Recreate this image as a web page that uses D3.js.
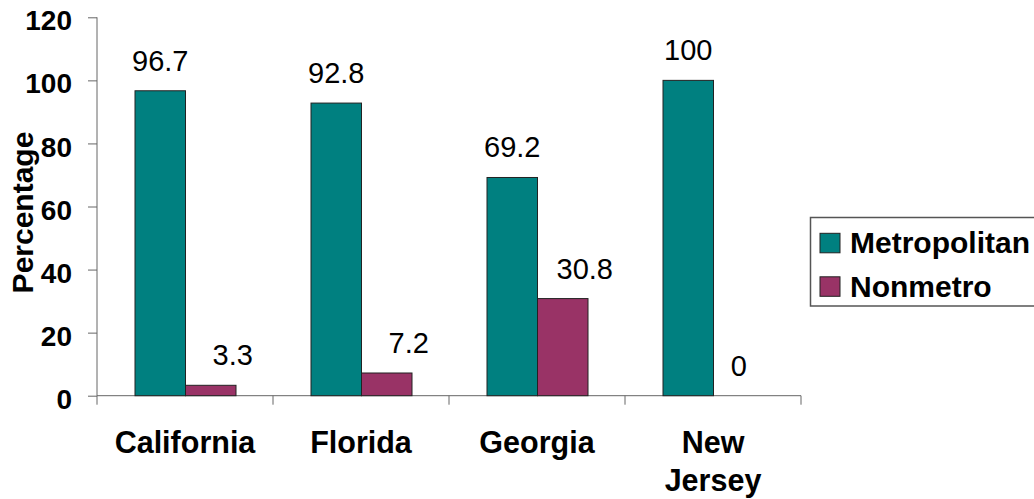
<!DOCTYPE html>
<meta charset="utf-8">
<style>
body { margin: 0; background: #fff; }
svg { display: block; font-family: Arial, "Liberation Sans", sans-serif; }
</style>
<svg id="chart" width="1034" height="499"></svg>
<script src="https://d3js.org/d3.v7.min.js"></script>
<script>

var states = ["California", "Florida", "Georgia", "New Jersey"];
var seriesNames = ["Metropolitan", "Nonmetro"];
var metropolitan = [96.7, 92.8, 69.2, 100];
var nonmetro = [3.3, 7.2, 30.8, 0];
var yTicks = [0, 20, 40, 60, 80, 100, 120];

var colors = ["#008080", "#993366"];

var svg = d3.select("#chart");

var x0 = d3.scaleBand()
    .domain(states)
    .range([97, 801])
    .padding(0);

var x1 = d3.scaleBand()
    .domain(seriesNames)
    .range([38, 139])
    .padding(0);

var y = d3.scaleLinear()
    .domain([0, 120])
    .range([395.7, 17.3]);

var rows = states.map(function(s, i) {
  return {state: s, values: [metropolitan[i], nonmetro[i]]};
});

// y axis
var yAxis = svg.append("g")
    .attr("transform", "translate(97,0)")
    .call(d3.axisLeft(y).tickValues(yTicks).tickSize(9).tickPadding(16));

yAxis.select(".domain").attr("stroke", "#666").attr("d", "M0," + y(120) + "V" + y(0));
yAxis.selectAll(".tick line").attr("stroke", "#666");
yAxis.selectAll(".tick text")
    .attr("font-size", 28)
    .attr("font-weight", "bold")
    .attr("fill", "#000")
    .attr("dy", "0.45em");

// x axis baseline + category separators
svg.append("line")
    .attr("x1", x0.range()[0]).attr("x2", x0.range()[1])
    .attr("y1", y(0)).attr("y2", y(0))
    .attr("stroke", "#666");

var sep = states.map(function(s) { return x0(s); }).concat([x0.range()[1]]);
svg.selectAll(".sep")
  .data(sep)
  .enter().append("line")
    .attr("x1", function(d) { return d; })
    .attr("x2", function(d) { return d; })
    .attr("y1", y(0))
    .attr("y2", y(0) + 9)
    .attr("stroke", "#666");

// bars
var groups = svg.append("g")
  .selectAll("g")
  .data(rows)
  .enter().append("g")
    .attr("transform", function(d) { return "translate(" + x0(d.state) + ",0)"; });

groups.selectAll("rect")
  .data(function(d) { return d.values.map(function(v, i) { return {key: seriesNames[i], i: i, value: v}; }); })
  .enter().append("rect")
    .filter(function(d) { return d.value > 0; })
    .attr("x", function(d) { return x1(d.key); })
    .attr("y", function(d) { return y(d.value); })
    .attr("width", x1.bandwidth())
    .attr("height", function(d) { return y(0) - y(d.value); })
    .attr("fill", function(d) { return colors[d.i]; })
    .attr("stroke", "#222")
    .attr("stroke-width", 1);

// value labels
groups.selectAll("text.val")
  .data(function(d) { return d.values.map(function(v, i) { return {key: seriesNames[i], i: i, value: v}; }); })
  .enter().append("text")
    .attr("class", "val")
    .attr("x", function(d) {
      var cx = x1(d.key) + x1.bandwidth() / 2;
      return (d.i === 1 && d.value > 0) ? cx + 22 : cx;
    })
    .attr("y", function(d) { return y(d.value) - 20; })
    .attr("text-anchor", "middle")
    .attr("font-size", 29)
    .attr("fill", "#000")
    .text(function(d) { return d.value; });

// category labels
svg.selectAll(".cat")
  .data(states)
  .enter().append("text")
    .attr("class", "cat")
    .attr("x", function(d) { return x0(d) + x0.bandwidth() / 2; })
    .attr("y", 453)
    .attr("text-anchor", "middle")
    .attr("font-size", 30.5)
    .attr("font-weight", "bold")
    .attr("fill", "#000")
    .each(function(d) {
      var words = d.split(" ");
      var t = d3.select(this);
      words.forEach(function(w, k) {
        t.append("tspan")
          .attr("x", x0(d) + x0.bandwidth() / 2)
          .attr("dy", k === 0 ? 0 : 38)
          .text(w);
      });
    });

// y axis title
svg.append("text")
    .attr("transform", "translate(33,212.5) rotate(-90)")
    .attr("text-anchor", "middle")
    .attr("font-size", 30)
    .attr("font-weight", "bold")
    .attr("fill", "#000")
    .text("Percentage");

// legend
var legend = svg.append("g");

legend.append("rect")
    .attr("x", 810.5).attr("y", 217.5)
    .attr("width", 240).attr("height", 88.5)
    .attr("fill", "#fff")
    .attr("stroke", "#555")
    .attr("stroke-width", 1.5);

var item = legend.selectAll(".item")
  .data(seriesNames)
  .enter().append("g")
    .attr("transform", function(d, i) { return "translate(820," + (233.3 + i * 43.5) + ")"; });

item.append("rect")
    .attr("width", 20)
    .attr("height", 19.5)
    .attr("fill", function(d, i) { return colors[i]; })
    .attr("stroke", "#222");

item.append("text")
    .attr("x", 30)
    .attr("y", 20)
    .attr("font-size", 30)
    .attr("font-weight", "bold")
    .attr("fill", "#000")
    .text(function(d) { return d; });

</script>
